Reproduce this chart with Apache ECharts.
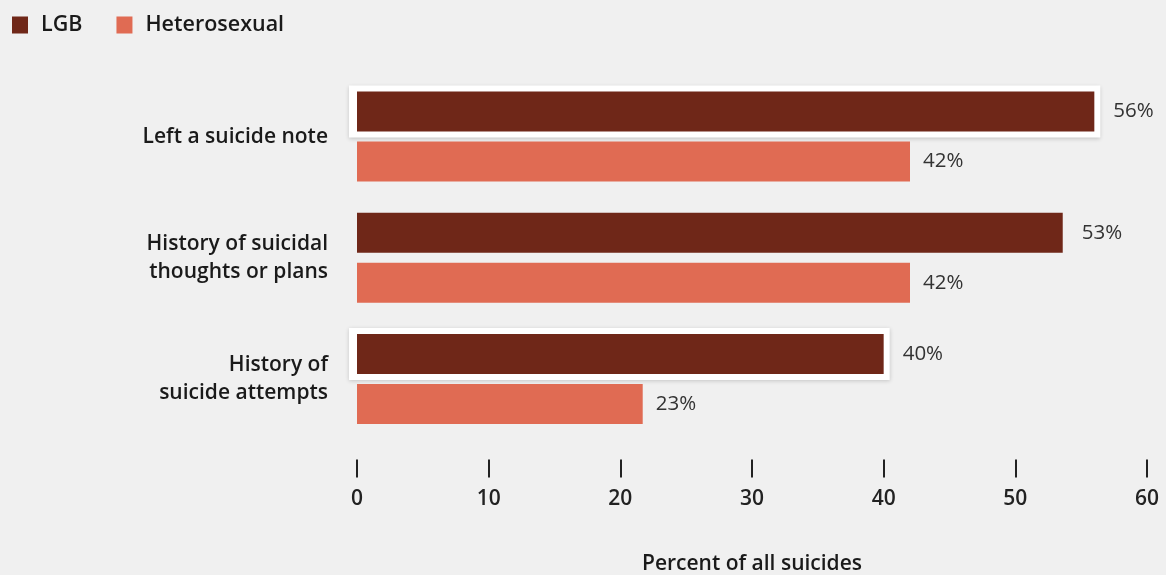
<!DOCTYPE html>
<html><head><meta charset="utf-8">
<script src="https://cdn.jsdelivr.net/npm/echarts@6/dist/echarts.min.js"></script>
<style>html,body{margin:0;padding:0;background:#f0f0f0;}#c{width:1166px;height:575px;}</style>
</head><body><div id="c"></div>
<script>
const categories = ['Left a suicide note', 'History of suicidal\nthoughts or plans', 'History of\nsuicide attempts'];
const lgbValues = [56, 53.6, 40];
const lgbLabels = ['56%', '53%', '40%'];
const hetValues = [42, 42, 21.7];
const hetLabels = ['42%', '42%', '23%'];
const highlighted = [true, false, true];
const xTicks = [0, 10, 20, 30, 40, 50, 60];

const FONT = 'Open Sans';
const chart = echarts.init(document.getElementById('c'));
const outlineData = lgbValues.map((v, i) => highlighted[i] ? [v, i] : null).filter(d => d);

chart.setOption({
  backgroundColor: '#f0f0f0',
  animation: false,
  legend: {
    left: 7, top: 9, itemWidth: 16, itemHeight: 17, itemGap: 34,
    icon: 'rect',
    textStyle: { fontFamily: FONT, fontSize: 21.5, fontWeight: 600, color: '#1a1a1a', padding: [0, 0, 0, 8] },
    data: ['LGB', 'Heterosexual']
  },
  grid: { left: 357, right: 19, top: 76, bottom: 135.5, containLabel: false, outerBoundsMode: 'none' },
  xAxis: {
    type: 'value', min: xTicks[0], max: xTicks[xTicks.length - 1], interval: 10,
    position: 'bottom', offset: 20,
    axisLine: { show: false },
    axisTick: { show: true, length: 18, lineStyle: { color: '#222', width: 2 } },
    splitLine: { show: false },
    axisLabel: { margin: 29, fontFamily: FONT, fontSize: 21, fontWeight: 600, color: '#222' },
    name: 'Percent of all suicides', nameLocation: 'middle', nameGap: 94,
    nameTextStyle: { fontFamily: FONT, fontSize: 21, fontWeight: 600, color: '#1a1a1a' }
  },
  yAxis: {
    type: 'category', data: categories, inverse: true,
    axisLine: { show: false }, axisTick: { show: false },
    axisLabel: { margin: 29, fontFamily: FONT, fontSize: 21, fontWeight: 600, color: '#1a1a1a', lineHeight: 28, align: 'right' }
  },
  series: [
    {
      type: 'custom', name: 'outline', z: 1, silent: true,
      data: outlineData,
      renderItem: function (params, api) {
        const v = api.value(0), c = api.value(1);
        const p0 = api.coord([0, c]);
        const p1 = api.coord([v, c]);
        const cy = p0[1] - 25;
        return {
          type: 'rect',
          shape: { x: p0[0] - 8, y: cy - 26, width: p1[0] - p0[0] + 14, height: 52 },
          style: { fill: '#ffffff', shadowBlur: 4, shadowColor: 'rgba(0,0,0,0.18)', shadowOffsetY: 1 }
        };
      }
    },
    {
      type: 'bar', name: 'LGB', z: 2, data: lgbValues, barWidth: 40, barGap: '25%', barCategoryGap: '25%',
      itemStyle: { color: '#6f2718' },
      label: { show: true, position: 'right', distance: 19, fontFamily: FONT, fontSize: 20.5, color: '#333',
        formatter: p => lgbLabels[p.dataIndex] }
    },
    {
      type: 'bar', name: 'Heterosexual', z: 2, data: hetValues, barWidth: 40, barGap: '25%',
      itemStyle: { color: '#e06b53' },
      label: { show: true, position: 'right', distance: 13, fontFamily: FONT, fontSize: 20.5, color: '#333',
        formatter: p => hetLabels[p.dataIndex] }
    }
  ]
});
</script></body></html>
